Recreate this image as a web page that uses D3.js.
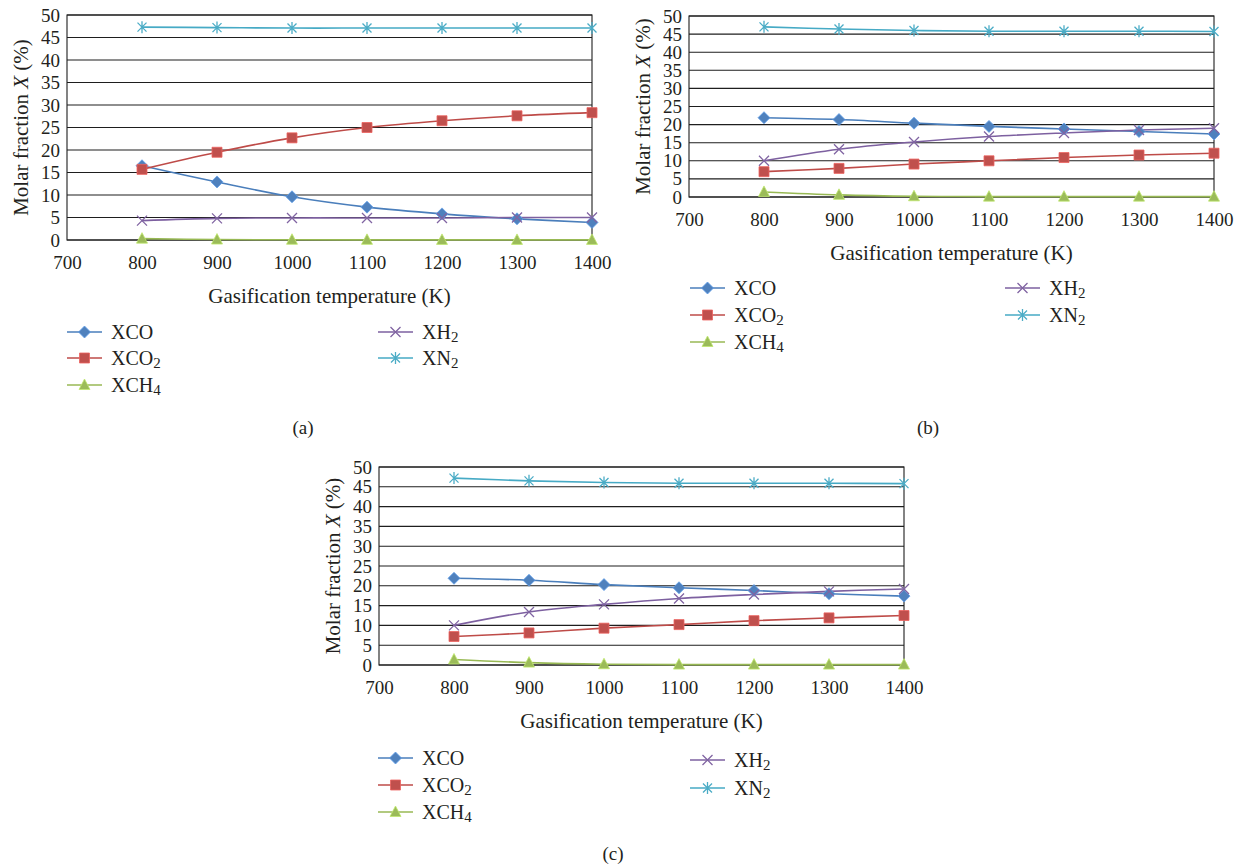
<!DOCTYPE html>
<html>
<head>
<meta charset="utf-8">
<script src="https://cdn.jsdelivr.net/npm/d3@7"></script>
<style>
  body { margin: 0; background: #fff; }
</style>
</head>
<body>
<div id="chart"></div>
<script>
// ------------------------------------------------------------------
//  molar fraction vs gasification temperature, three panels
// ------------------------------------------------------------------
const temps = [800, 900, 1000, 1100, 1200, 1300, 1400]
const x_ticks = [700, 800, 900, 1000, 1100, 1200, 1300, 1400]
const y_ticks = [0, 5, 10, 15, 20, 25, 30, 35, 40, 45, 50]
const series_names = ["XCO", "XCO2", "XCH4", "XH2", "XN2"]

// panel (a)
const xco_a  = [16.5, 12.9, 9.6, 7.3, 5.8, 4.7, 3.9]
const xco2_a = [15.7, 19.5, 22.7, 25.0, 26.5, 27.6, 28.3]
const xch4_a = [0.3, 0.1, 0.05, 0.03, 0.02, 0.02, 0.02]
const xh2_a  = [4.3, 4.8, 4.9, 4.9, 4.9, 5.0, 5.0]
const xn2_a  = [47.3, 47.2, 47.1, 47.1, 47.1, 47.1, 47.1]

// panel (b)
const xco_b  = [21.9, 21.4, 20.4, 19.5, 18.8, 18.1, 17.4]
const xco2_b = [7.0, 7.9, 9.1, 10.0, 10.9, 11.6, 12.1]
const xch4_b = [1.4, 0.6, 0.2, 0.1, 0.1, 0.1, 0.1]
const xh2_b  = [10.0, 13.2, 15.2, 16.7, 17.7, 18.5, 19.0]
const xn2_b  = [47.0, 46.4, 46.0, 45.8, 45.8, 45.8, 45.7]

// panel (c)
const xco_c  = [21.9, 21.4, 20.3, 19.5, 18.8, 18.0, 17.4]
const xco2_c = [7.2, 8.1, 9.3, 10.2, 11.2, 11.9, 12.5]
const xch4_c = [1.4, 0.6, 0.2, 0.1, 0.1, 0.1, 0.1]
const xh2_c  = [10.0, 13.4, 15.3, 16.8, 17.8, 18.6, 19.2]
const xn2_c  = [47.2, 46.5, 46.1, 45.9, 45.9, 45.9, 45.8]

const font = '"Liberation Serif", "Times New Roman", "DejaVu Serif", serif'

const styles = {
  XCO:  {line: "#4a7ebb", fill: "#4f81bd", shape: "diamond"},
  XCO2: {line: "#be4b48", fill: "#c0504d", shape: "square"},
  XCH4: {line: "#98b954", fill: "#9bbb59", shape: "triangle"},
  XH2:  {line: "#7d60a0", fill: "#8064a2", shape: "cross"},
  XN2:  {line: "#46aac5", fill: "#4bacc6", shape: "star"}
}

const panels = [
  {label: "(a)", left: 67, right: 592, top: 15, bottom: 240,
   data: [xco_a, xco2_a, xch4_a, xh2_a, xn2_a],
   leg: {x1: 67, x2: 378, rows: [332, 358, 385], rows2: [332, 358]},
   cap: [303, 427]},
  {label: "(b)", left: 689, right: 1214, top: 16, bottom: 197,
   data: [xco_b, xco2_b, xch4_b, xh2_b, xn2_b],
   leg: {x1: 690, x2: 1005, rows: [288, 315, 342], rows2: [288, 315]},
   cap: [928, 427]},
  {label: "(c)", left: 379, right: 904, top: 467, bottom: 665,
   data: [xco_c, xco2_c, xch4_c, xh2_c, xn2_c],
   leg: {x1: 378, x2: 690, rows: [758, 785, 812], rows2: [760, 788]},
   cap: [613, 853]}
]

const svg = d3.select("#chart").append("svg")
    .attr("width", 1239)
    .attr("height", 864)
svg.append("rect").attr("width", 1239).attr("height", 864).attr("fill", "#fff")

// marker paths, centred on 0,0
function marker_path (shape)
{
  if (shape == "diamond") return "M0,-6L6,0L0,6L-6,0Z"
  if (shape == "square") return "M-5,-5H5V5H-5Z"
  if (shape == "triangle") return "M0,-6L5.5,4.5L-5.5,4.5Z"
  if (shape == "cross") return "M-5,-5L5,5M-5,5L5,-5"
  return "M-4.5,-4.5L4.5,4.5M-4.5,4.5L4.5,-4.5M0,-6V6"
}

function add_marker (g, name, cx, cy)
{
  const st = styles[name]
  const open = st.shape == "cross" || st.shape == "star"
  g.append("path")
    .attr("transform", "translate(" + cx + "," + cy + ")")
    .attr("d", marker_path(st.shape))
    .attr("fill", open ? "none" : st.fill)
    .attr("stroke", open ? st.fill : d3.color(st.fill).brighter(0.6))
    .attr("stroke-width", open ? 1.3 : 0.8)
}

function add_text (g, tx, ty, size)
{
  return g.append("text").attr("x", tx).attr("y", ty)
    .style("font-family", font).style("font-size", size + "px")
    .style("fill", "#231f20")
    .attr("dominant-baseline", "central")
}

function add_name (g, name, tx, ty)
{
  const t = add_text(g, tx, ty, 20)
  const m = name.match(/^([A-Z]+?)(\d*)$/)
  t.append("tspan").text(m[1])
  if (m[2]) t.append("tspan").attr("dy", 5).style("font-size", "15px").text(m[2])
}

function draw_panel (p)
{
  const x = d3.scaleLinear().domain([700, 1400]).range([p.left, p.right])
  const y = d3.scaleLinear().domain([0, 50]).range([p.bottom, p.top])
  const g = svg.append("g")

  // grid lines
  g.selectAll(".grid").data(y_ticks).enter().append("line")
      .attr("x1", p.left).attr("x2", p.right)
      .attr("y1", d => y(d)).attr("y2", d => y(d))
      .attr("stroke", "#1e1e1e").attr("stroke-width", 1.1)
  // frame
  g.append("rect")
      .attr("x", p.left).attr("y", p.top)
      .attr("width", p.right - p.left).attr("height", p.bottom - p.top)
      .attr("fill", "none").attr("stroke", "#1e1e1e").attr("stroke-width", 1.1)

  // y axis labels
  const ya = g.append("g").attr("transform", "translate(" + p.left + ",0)")
      .call(d3.axisLeft(y).tickValues(y_ticks).tickSize(0).tickPadding(7))
  ya.select(".domain").remove()
  ya.selectAll("text").style("font-family", font).style("font-size", "19px").style("fill", "#231f20")

  // x axis labels
  const xa = g.append("g").attr("transform", "translate(0," + p.bottom + ")")
      .call(d3.axisBottom(x).tickValues(x_ticks).tickSize(0).tickPadding(16).tickFormat(d3.format("d")))
  xa.select(".domain").remove()
  xa.selectAll("text").style("font-family", font).style("font-size", "19px").style("fill", "#231f20")

  // axis titles
  add_text(g, (p.left + p.right) / 2, p.bottom + 56, 21)
      .attr("text-anchor", "middle")
      .text("Gasification temperature (K)")
  const yt = add_text(g, 0, 0, 21)
      .attr("transform", "translate(" + (p.left - 46) + "," + ((p.top + p.bottom) / 2) + ") rotate(-90)")
      .attr("text-anchor", "middle")
  yt.append("tspan").text("Molar fraction ")
  yt.append("tspan").style("font-style", "italic").text("X")
  yt.append("tspan").text(" (%)")

  // series
  const line = d3.line()
      .x((d, i) => x(temps[i]))
      .y(d => y(d))
      .curve(d3.curveCatmullRom.alpha(0.5))
  series_names.forEach(function (name, k) {
    g.append("path")
      .datum(p.data[k])
      .attr("d", line)
      .attr("fill", "none")
      .attr("stroke", styles[name].line)
      .attr("stroke-width", 1.6)
  })
  series_names.forEach(function (name, k) {
    p.data[k].forEach(function (v, i) { add_marker(g, name, x(temps[i]), y(v)) })
  })

  // legend
  series_names.forEach(function (name, k) {
    const col2 = k >= 3
    const lx = col2 ? p.leg.x2 : p.leg.x1
    const ly = col2 ? p.leg.rows2[k - 3] : p.leg.rows[k]
    g.append("line").attr("x1", lx).attr("x2", lx + 35)
      .attr("y1", ly).attr("y2", ly)
      .attr("stroke", styles[name].line).attr("stroke-width", 1.6)
    add_marker(g, name, lx + 17.5, ly)
    add_name(g, name, lx + 44, ly)
  })

  add_text(g, p.cap[0], p.cap[1], 19)
      .attr("text-anchor", "middle")
      .text(p.label)
}

panels.forEach(draw_panel)
</script>
</body>
</html>
